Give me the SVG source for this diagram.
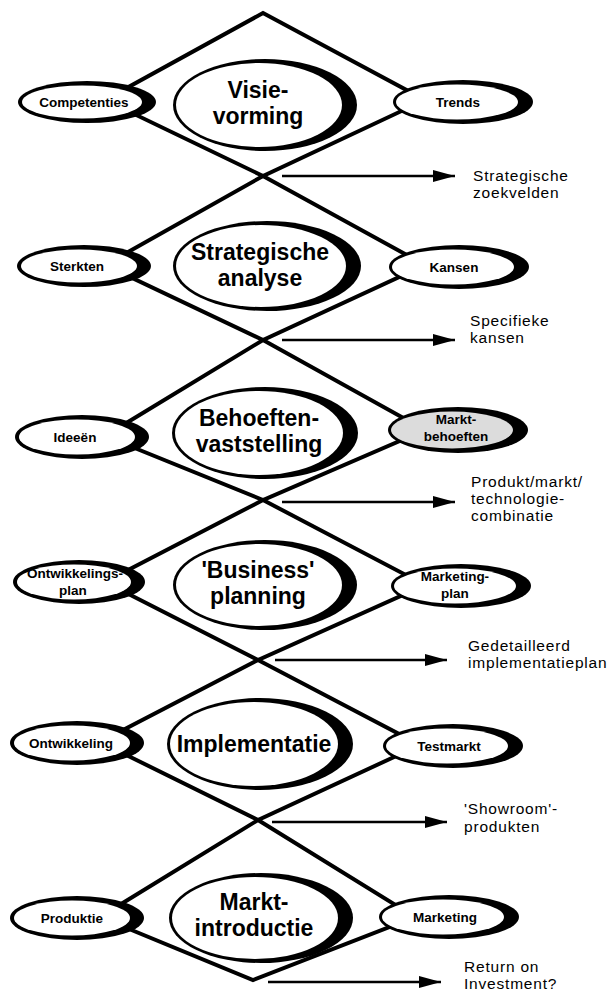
<svg xmlns="http://www.w3.org/2000/svg" width="611" height="992" viewBox="0 0 611 992">
  <style>
    .dia { fill: none; stroke: #000; stroke-width: 4; stroke-linejoin: miter; }
    .arr { fill: none; stroke: #000; stroke-width: 2.5; }
    .rim { fill: #000; }
    .face { fill: #fff; }
    .shade { fill: #dcdcdc; }
    .big { font-family: "Liberation Sans", Arial, sans-serif; font-weight: bold; font-size: 23px; text-anchor: middle; fill: #000; }
    .small { font-family: "Liberation Sans", Arial, sans-serif; font-weight: bold; font-size: 13.5px; text-anchor: middle; fill: #000; }
    .out { font-family: "Liberation Sans", Arial, sans-serif; font-size: 15.5px; letter-spacing: 0.8px; fill: #000; }
  </style>
  <defs>
    <marker id="head" markerWidth="22" markerHeight="12" refX="22" refY="6" orient="auto" markerUnits="userSpaceOnUse">
      <path d="M0,0 L22,6 L0,12 Z" fill="#000"/>
    </marker>
  </defs>
  <rect width="611" height="992" fill="#fff"/>

  <!-- diamonds linking the phases, and result arrows -->
  <g id="connectors">
    <polygon class="dia" points="263,13 425,100 263,176 105,100"/>
    <polygon class="dia" points="263,176 425,265 263,340 105,265"/>
    <polygon class="dia" points="263,340 425,430 263,500 105,436"/>
    <polygon class="dia" points="263,500 425,585 258,660 105,582"/>
    <polygon class="dia" points="258,660 420,745 258,820 100,742"/>
    <polygon class="dia" points="258,820 415,917 253,980 100,917"/>
    <line class="arr" x1="282" y1="176" x2="455" y2="176" marker-end="url(#head)"/>
    <line class="arr" x1="282" y1="340" x2="455" y2="340" marker-end="url(#head)"/>
    <line class="arr" x1="282" y1="502" x2="455" y2="502" marker-end="url(#head)"/>
    <line class="arr" x1="275" y1="660" x2="447" y2="660" marker-end="url(#head)"/>
    <line class="arr" x1="272" y1="822" x2="447" y2="822" marker-end="url(#head)"/>
    <line class="arr" x1="268" y1="982" x2="441" y2="982" marker-end="url(#head)"/>
  </g>

  <!-- phase 1 -->
  <g id="competenties">
    <ellipse class="rim" cx="87" cy="102" rx="69" ry="21"/>
    <ellipse class="face" cx="82" cy="102" rx="60" ry="16.5"/>
    <text class="small" x="84" y="107">Competenties</text>
  </g>
  <g id="visievorming">
    <ellipse class="rim" cx="265" cy="105" rx="92" ry="46"/>
    <ellipse class="face" cx="259" cy="105" rx="83" ry="42"/>
    <text class="big" x="258" y="98">Visie-</text>
    <text class="big" x="258" y="124">vorming</text>
  </g>
  <g id="trends">
    <ellipse class="rim" cx="463" cy="102" rx="70" ry="22"/>
    <ellipse class="face" cx="457" cy="102" rx="61" ry="17.5"/>
    <text class="small" x="458" y="107">Trends</text>
  </g>
  <g id="out-zoekvelden">
    <text class="out" x="473" y="181">Strategische</text>
    <text class="out" x="473" y="198">zoekvelden</text>
  </g>

  <!-- phase 2 -->
  <g id="sterkten">
    <ellipse class="rim" cx="84" cy="266" rx="67" ry="21"/>
    <ellipse class="face" cx="79" cy="266" rx="58" ry="16.5"/>
    <text class="small" x="77" y="271">Sterkten</text>
  </g>
  <g id="strategische-analyse">
    <ellipse class="rim" cx="267" cy="266" rx="94" ry="45"/>
    <ellipse class="face" cx="261" cy="266" rx="85" ry="41"/>
    <text class="big" x="260" y="260">Strategische</text>
    <text class="big" x="260" y="286">analyse</text>
  </g>
  <g id="kansen">
    <ellipse class="rim" cx="459" cy="267" rx="70" ry="22"/>
    <ellipse class="face" cx="453" cy="267" rx="61" ry="17.5"/>
    <text class="small" x="454" y="272">Kansen</text>
  </g>
  <g id="out-kansen">
    <text class="out" x="470" y="326">Specifieke</text>
    <text class="out" x="470" y="343">kansen</text>
  </g>

  <!-- phase 3 -->
  <g id="ideeen">
    <ellipse class="rim" cx="82" cy="437" rx="67" ry="22"/>
    <ellipse class="face" cx="77" cy="437" rx="58" ry="17.5"/>
    <text class="small" x="75" y="442">Ideeën</text>
  </g>
  <g id="behoeftenvaststelling">
    <ellipse class="rim" cx="265" cy="433" rx="93" ry="46"/>
    <ellipse class="face" cx="259" cy="433" rx="84" ry="42"/>
    <text class="big" x="259" y="426">Behoeften-</text>
    <text class="big" x="259" y="452">vaststelling</text>
  </g>
  <g id="marktbehoeften">
    <ellipse class="rim" cx="458" cy="430" rx="70" ry="23"/>
    <ellipse class="shade" cx="452" cy="430" rx="61" ry="18.5"/>
    <text class="small" x="456" y="424">Markt-</text>
    <text class="small" x="456" y="441">behoeften</text>
  </g>
  <g id="out-pmt">
    <text class="out" x="471" y="487">Produkt/markt/</text>
    <text class="out" x="471" y="504">technologie-</text>
    <text class="out" x="471" y="521">combinatie</text>
  </g>

  <!-- phase 4 -->
  <g id="ontwikkelingsplan">
    <ellipse class="rim" cx="79" cy="582" rx="66" ry="22"/>
    <ellipse class="face" cx="74" cy="582" rx="57" ry="17.5"/>
    <text class="small" x="75" y="578">Ontwikkelings-</text>
    <text class="small" x="73" y="595">plan</text>
  </g>
  <g id="business-planning">
    <ellipse class="rim" cx="265" cy="585" rx="92" ry="45"/>
    <ellipse class="face" cx="259" cy="585" rx="83" ry="41"/>
    <text class="big" x="258" y="578">'Business'</text>
    <text class="big" x="258" y="604">planning</text>
  </g>
  <g id="marketingplan">
    <ellipse class="rim" cx="461" cy="586" rx="70" ry="22"/>
    <ellipse class="face" cx="455" cy="586" rx="61" ry="17.5"/>
    <text class="small" x="455" y="581">Marketing-</text>
    <text class="small" x="455" y="598">plan</text>
  </g>
  <g id="out-implementatieplan">
    <text class="out" x="468" y="651">Gedetailleerd</text>
    <text class="out" x="468" y="668">implementatieplan</text>
  </g>

  <!-- phase 5 -->
  <g id="ontwikkeling">
    <ellipse class="rim" cx="77" cy="743" rx="67" ry="22"/>
    <ellipse class="face" cx="72" cy="743" rx="58" ry="17.5"/>
    <text class="small" x="71" y="748">Ontwikkeling</text>
  </g>
  <g id="implementatie">
    <ellipse class="rim" cx="260" cy="744" rx="93" ry="46"/>
    <ellipse class="face" cx="254" cy="744" rx="84" ry="42"/>
    <text class="big" x="254" y="752">Implementatie</text>
  </g>
  <g id="testmarkt">
    <ellipse class="rim" cx="453" cy="746" rx="70" ry="22"/>
    <ellipse class="face" cx="447" cy="746" rx="61" ry="17.5"/>
    <text class="small" x="449" y="751">Testmarkt</text>
  </g>
  <g id="out-showroom">
    <text class="out" x="464" y="814">'Showroom'-</text>
    <text class="out" x="464" y="832">produkten</text>
  </g>

  <!-- phase 6 -->
  <g id="produktie">
    <ellipse class="rim" cx="77" cy="918" rx="67" ry="22"/>
    <ellipse class="face" cx="72" cy="918" rx="58" ry="17.5"/>
    <text class="small" x="72" y="923">Produktie</text>
  </g>
  <g id="marktintroductie">
    <ellipse class="rim" cx="261" cy="918" rx="92" ry="45"/>
    <ellipse class="face" cx="255" cy="918" rx="83" ry="41"/>
    <text class="big" x="254" y="910">Markt-</text>
    <text class="big" x="254" y="936">introductie</text>
  </g>
  <g id="marketing">
    <ellipse class="rim" cx="449" cy="917" rx="70" ry="22"/>
    <ellipse class="face" cx="443" cy="917" rx="61" ry="17.5"/>
    <text class="small" x="445" y="922">Marketing</text>
  </g>
  <g id="out-roi">
    <text class="out" x="464" y="972">Return on</text>
    <text class="out" x="464" y="989">Investment?</text>
  </g>
</svg>
